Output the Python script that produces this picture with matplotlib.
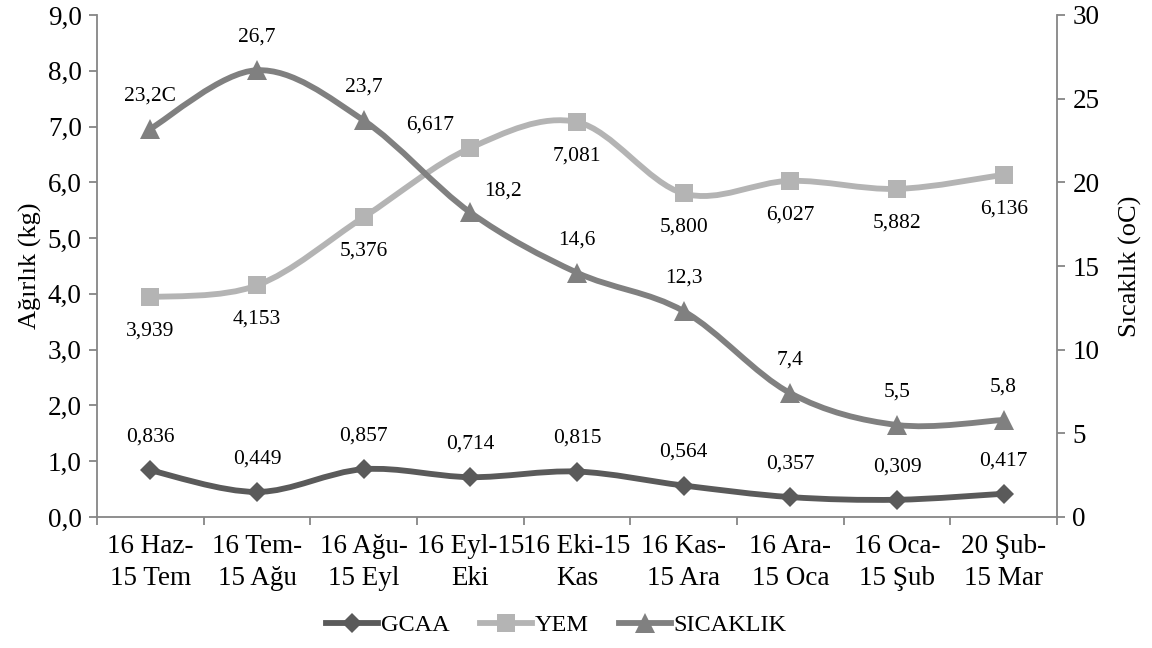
import matplotlib

matplotlib.use("Agg")
import matplotlib.pyplot as plt
import numpy as np
from matplotlib.lines import Line2D
from matplotlib.patches import PathPatch
from matplotlib.path import Path

plt.rcParams["font.family"] = ["Liberation Serif", "DejaVu Serif"]

periods = [
    "16 Haz-\n15 Tem", "16 Tem-\n15 Ağu", "16 Ağu-\n15 Eyl", "16 Eyl-15\nEki",
    "16 Eki-15\nKas", "16 Kas-\n15 Ara", "16 Ara-\n15 Oca", "16 Oca-\n15 Şub",
    "20 Şub-\n15 Mar",
]
gcaa = [0.836, 0.449, 0.857, 0.714, 0.815, 0.564, 0.357, 0.309, 0.417]
yem = [3.939, 4.153, 5.376, 6.617, 7.081, 5.800, 6.027, 5.882, 6.136]
sicaklik = [23.2, 26.7, 23.7, 18.2, 14.6, 12.3, 7.4, 5.5, 5.8]
sicaklik_text = ["23,2C", "26,7", "23,7", "18,2", "14,6", "12,3", "7,4", "5,5", "5,8"]

C_GCAA = "#5a5a5a"
C_YEM = "#b4b4b4"
C_SIC = "#808080"
C_AXIS = "#868686"


def smooth_path(xs, ys):
    # Catmull-Rom through the points, written as cubic Bezier segments
    pts = np.column_stack([xs, ys]).astype(float)
    ext = np.vstack([pts[0], pts, pts[-1]])
    verts = [pts[0]]
    codes = [Path.MOVETO]
    for i in range(len(pts) - 1):
        p0, p1, p2, p3 = ext[i], ext[i + 1], ext[i + 2], ext[i + 3]
        verts += [p1 + (p2 - p0) / 6.0, p2 - (p3 - p1) / 6.0, p2]
        codes += [Path.CURVE4] * 3
    return Path(verts, codes)


def draw_series(ax, ys, color, marker, ms, z):
    xs = np.arange(len(ys))
    ax.add_patch(PathPatch(smooth_path(xs, ys), facecolor="none", edgecolor=color,
                           lw=4.2, capstyle="round", joinstyle="round", zorder=z))
    ax.plot(xs, ys, linestyle="none", marker=marker, ms=ms, color=color,
            markeredgewidth=0, zorder=z + 0.1)


def comma(v, nd):
    return f"{v:.{nd}f}".replace(".", ",")


fig = plt.figure(figsize=(11.52, 6.48), dpi=100)
ax = fig.add_axes([97 / 1152, 1 - 517 / 648, 960 / 1152, 502 / 648])
ax2 = ax.twinx()

x = np.arange(len(periods))
ax.set_xlim(-0.5, len(periods) - 0.5)
ax.set_ylim(0, 9)
ax2.set_ylim(0, 30)

draw_series(ax, gcaa, C_GCAA, "D", 10, 3)
draw_series(ax, yem, C_YEM, "s", 13, 2)
draw_series(ax2, sicaklik, C_SIC, "^", 14, 3)

label_kw = dict(textcoords="offset pixels", ha="center", va="center", fontsize=15.5)
for i, v in enumerate(gcaa):
    ax.annotate(comma(v, 3), (x[i], v), xytext=(0, 33), **label_kw)
for i, v in enumerate(yem):
    off = (-40, 23) if i == 3 else (0, -34)
    ax.annotate(comma(v, 3), (x[i], v), xytext=off, **label_kw)
for i, v in enumerate(sicaklik):
    off = (33, 21) if i == 3 else (0, 33)
    ax2.annotate(sicaklik_text[i], (x[i], v), xytext=off, **label_kw)

# axes styling
for a in (ax, ax2):
    a.spines["top"].set_visible(False)
    for s in ("left", "right", "bottom"):
        a.spines[s].set_color(C_AXIS)
        a.spines[s].set_linewidth(1.3)
ax.spines["right"].set_visible(False)
ax2.spines["left"].set_visible(False)
ax2.spines["bottom"].set_visible(False)

ax.set_yticks(np.arange(0, 9.01, 1.0))
ax.set_yticklabels([comma(v, 1) for v in np.arange(0, 9.01, 1.0)])
ax2.set_yticks(np.arange(0, 31, 5))

ax.set_xticks(x)
ax.set_xticklabels(periods, linespacing=1.38)
ax.set_xticks(np.arange(-0.5, len(periods), 1.0), minor=True)
ax.tick_params(axis="x", which="major", length=0, pad=12, labelsize=19.5)
ax.tick_params(axis="x", which="minor", length=6, width=1.3, color=C_AXIS, direction="out")
ax.tick_params(axis="y", length=6, width=1.3, color=C_AXIS, labelsize=19.5, pad=5)
ax2.tick_params(axis="y", length=6, width=1.3, color=C_AXIS, labelsize=19.5, pad=5)

ax.set_ylabel("Ağırlık (kg)", fontsize=19, labelpad=4)
ax2.set_ylabel("Sıcaklık (oC)", fontsize=19, labelpad=14)

handles = [
    Line2D([], [], color=C_GCAA, lw=4.2, marker="D", ms=10, markeredgewidth=0),
    Line2D([], [], color=C_YEM, lw=4.2, marker="s", ms=13, markeredgewidth=0),
    Line2D([], [], color=C_SIC, lw=4.2, marker="^", ms=14, markeredgewidth=0),
]
fig.legend(handles, ["GCAA", "YEM", "SICAKLIK"], loc="center", ncol=3,
           bbox_to_anchor=(0.483, 1 - 625 / 648), frameon=False, fontsize=17.5,
           handlelength=2.15, handletextpad=0.1, columnspacing=1.25)

fig.savefig("out.png", dpi=100)
